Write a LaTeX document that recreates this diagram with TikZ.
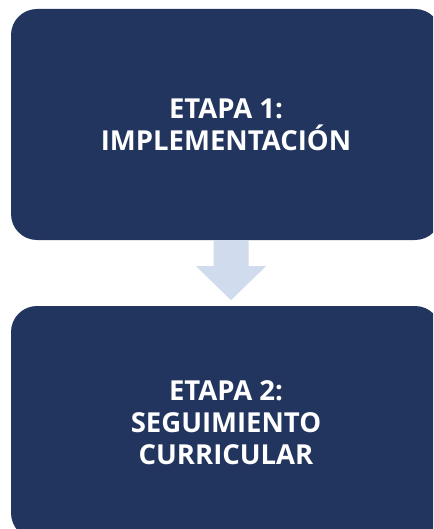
\documentclass[tikz,border=0pt]{standalone}
\usepackage{fontspec}
\setmainfont{Open Sans}
\definecolor{etapablue}{RGB}{34,53,94}
\definecolor{flecha}{RGB}{208,219,237}

\begin{document}
\begin{tikzpicture}[x=1pt,y=-1pt,
    etapa/.style={fill=etapablue, rounded corners=26pt, minimum width=430pt,
        text=white, font=\bfseries\fontsize{27.5}{32}\selectfont, align=center, inner sep=0pt},
]
    \useasboundingbox (0,0) rectangle (433,529);
    \clip (0,0) rectangle (433,529);
    \node[etapa, minimum height=231pt] (E1) at (226,124.5) {ETAPA 1:\\IMPLEMENTACIÓN};
    \node[etapa, minimum height=233pt] (E2) at (226,422.5) {ETAPA 2:\\SEGUIMIENTO\\CURRICULAR};

    % flecha entre etapas
    \fill[flecha] ([xshift=5pt]E1.south) ++(-17.5,0) -- ++(35,0) -- ++(0,26) -- ++(17.5,0)
        -- ++(-35,34) -- ++(-35,-34) -- ++(17.5,0) -- cycle;
\end{tikzpicture}
\end{document}
